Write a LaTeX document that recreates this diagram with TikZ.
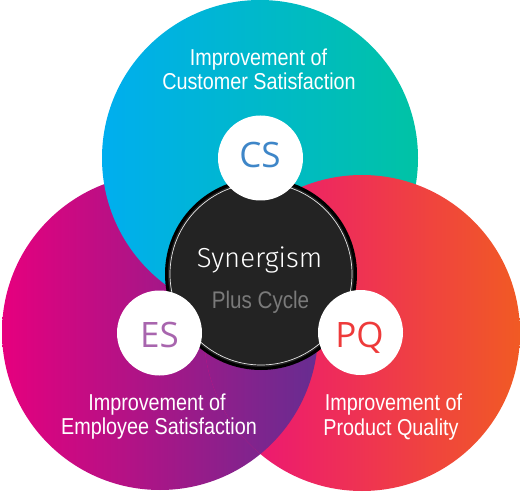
\documentclass[tikz,border=0pt]{standalone}
\usepackage{fontspec}
\setmainfont{Liberation Sans}
\newfontfamily\condfont[FakeStretch=0.86]{Liberation Sans}
\newfontfamily\letterfont{Open Sans}
\newfontfamily\synfont{Fira Sans Light}
\definecolor{tL}{HTML}{00AEEF}
\definecolor{tR}{HTML}{00C3A5}
\definecolor{lL}{HTML}{E6007E}
\definecolor{lR}{HTML}{662D91}
\definecolor{rL}{HTML}{EC0C80}
\definecolor{rR}{HTML}{F15A24}
\definecolor{hubfill}{HTML}{232323}
\definecolor{csc}{HTML}{3E86C8}
\definecolor{esc}{HTML}{A865AE}
\definecolor{pqc}{HTML}{EE3A3A}
\definecolor{plusc}{HTML}{7A7A7A}
\tikzset{
  bigT/.style={left color=tL,right color=tR},
  bigL/.style={left color=lL,right color=lR},
  bigR/.style={left color=rL,right color=rR},
  badge/.style={circle,fill=white,minimum size=85pt,inner sep=0pt},
  lettertxt/.style={anchor=base,inner sep=0pt,font=\letterfont\fontsize{35}{35}\selectfont},
  captxt/.style={anchor=base,inner sep=0pt,text=white,font=\condfont\fontsize{23}{24}\selectfont},
}
\begin{document}
\begin{tikzpicture}[x=1pt,y=-1pt]
\useasboundingbox (0,0) rectangle (520,492);
\coordinate (cT) at (260,158);
\coordinate (cL) at (160,332);
\coordinate (cR) at (362,333);
% big circles with cyclic overlap
\path[bigL] (cL) circle[radius=158pt];
\path[bigT] (cT) circle[radius=158pt];
\path[bigR] (cR) circle[radius=158pt];
\begin{scope}
  \clip (cR) circle[radius=158pt];
  \path[bigL] (cL) circle[radius=158pt];
\end{scope}
% hub
\node[circle,minimum size=189pt,inner sep=0pt,fill=hubfill,draw=black,line width=3pt] (hub) at (261,274) {};
\draw[white!80!gray,line width=0.7pt] (hub.center) circle[radius=91pt];
% badges
\node[badge] (bcs) at (260.5,158) {};
\node[badge] (bes) at (159.5,333) {};
\node[badge] (bpq) at (360.5,332.5) {};
\node[lettertxt,text=csc] (tcs) at (260,168) {CS};
\node[lettertxt,text=esc] (tes) at (159.5,347) {ES};
\node[lettertxt,text=pqc] (tpq) at (359.5,347) {PQ};
% hub texts
\node[anchor=base,inner sep=0pt,text=white,font=\synfont\fontsize{27.5}{27.5}\selectfont] (syn) at (259.5,268) {Synergism};
\node[anchor=base,inner sep=0pt,text=plusc,font=\condfont\fontsize{24}{24}\selectfont] (plus) at (260.5,308) {Plus Cycle};
% captions
\node[captxt] (c1a) at (258.5,66) {Improvement of};
\node[captxt] (c1b) at (259,90) {Customer Satisfaction};
\node[captxt] (c2a) at (157,410) {Improvement of};
\node[captxt] (c2b) at (159,434) {Employee Satisfaction};
\node[captxt] (c3a) at (393.5,410) {Improvement of};
\node[captxt] (c3b) at (391,435) {Product Quality};
\end{tikzpicture}
\end{document}
